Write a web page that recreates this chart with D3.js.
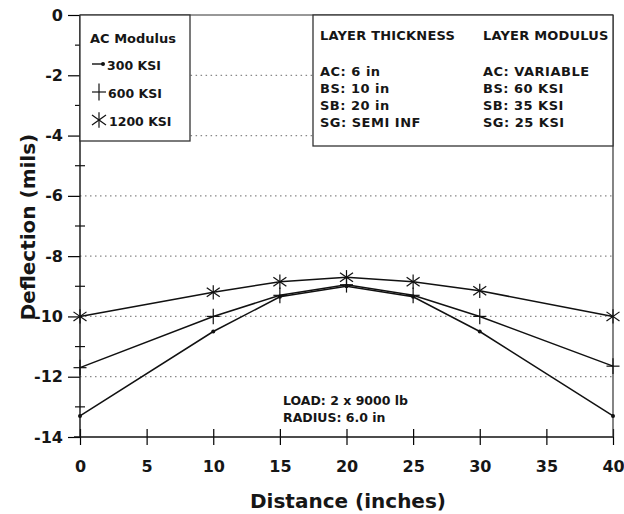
<!DOCTYPE html>
<meta charset="utf-8">
<style>
body{margin:0;background:#fff;}
text{font-family:"DejaVu Sans",Arial,sans-serif;fill:#161616;font-weight:bold;}
.tick text{font-size:16px;}
.box text{font-size:12.5px;}
.layers text{font-size:13px;letter-spacing:0.5px;}
.layers text.head{letter-spacing:0.2px;}
.title{font-size:20px;}
.grid line{stroke:#888;stroke-dasharray:1.5 3.5;stroke-width:1.2;}
</style>
<body>
<script src="https://d3js.org/d3.v7.min.js"></script>
<script>
var distance=[0,10,15,20,25,30,40];
var ac300=[-13.3,-10.5,-9.35,-9.0,-9.35,-10.5,-13.3];
var ac600=[-11.7,-10.0,-9.3,-8.95,-9.3,-10.0,-11.65];
var ac1200=[-10.0,-9.2,-8.85,-8.7,-8.85,-9.15,-10.0];
var series=[
  {name:"300 KSI",values:ac300,mark:"dot"},
  {name:"600 KSI",values:ac600,mark:"plus"},
  {name:"1200 KSI",values:ac1200,mark:"star"}
];
var xTicks=[0,5,10,15,20,25,30,35,40];
var yTicks=[0,-2,-4,-6,-8,-10,-12,-14];
var thickness=["AC: 6 in","BS: 10 in","SB: 20 in","SG: SEMI INF"];
var modulus=["AC: VARIABLE","BS: 60 KSI","SB: 35 KSI","SG: 25 KSI"];

var W=624,H=514;
var svg=d3.select("body").append("svg").attr("width",W).attr("height",H);
var x=d3.scaleLinear().domain([0,40]).range([80,613]);
var y=d3.scaleLinear().domain([0,-14]).range([15,437]);

// dotted grid, broken by the boxes at the top
var grid=svg.append("g").attr("class","grid");
[-2,-4,-6,-8,-10,-12].forEach(function(v){
  var x1=v>-5?x(8.3):x(0), x2=v>-5?x(17.5):x(40);
  grid.append("line").attr("x1",x1).attr("x2",x2).attr("y1",y(v)).attr("y2",y(v));
});

// axes
var yAxis=d3.axisLeft(y).tickValues(yTicks).tickSize(12).tickPadding(5).tickFormat(function(d){return String(d);});
var gy=svg.append("g").attr("transform","translate("+x(0)+",0)").call(yAxis);
gy.selectAll(".tick line").attr("stroke-width",1.2);
// minor y ticks
d3.range(-1,-14,-2).forEach(function(v){
  gy.append("line").attr("x1",-5).attr("x2",5).attr("y1",y(v)).attr("y2",y(v)).attr("stroke","#111").attr("stroke-width",1.2);
});
var xAxis=d3.axisBottom(x).tickValues(xTicks).tickSize(8).tickPadding(16);
var gx=svg.append("g").attr("transform","translate(0,"+y(-14)+")").call(xAxis);
gx.selectAll(".tick line").attr("y1",-8).attr("stroke-width",1.2);
svg.selectAll(".domain").remove();
svg.append("line").attr("x1",x(0)).attr("x2",x(0)).attr("y1",y(0)).attr("y2",y(-14)).attr("stroke","#111").attr("stroke-width",1.4);
svg.append("line").attr("x1",x(0)-6).attr("x2",x(40)).attr("y1",y(-14)).attr("y2",y(-14)).attr("stroke","#111").attr("stroke-width",1.4);
svg.append("line").attr("x1",x(0)).attr("x2",x(40)).attr("y1",y(0)).attr("y2",y(0)).attr("stroke","#333").attr("stroke-width",1.2);
svg.append("line").attr("x1",x(40)).attr("x2",x(40)).attr("y1",y(0)).attr("y2",y(-14)).attr("stroke","#333").attr("stroke-width",1.2);

function marker(g,type,cx,cy,s){
  var m=g.append("g").attr("transform","translate("+cx+","+cy+")").attr("stroke","#111").attr("stroke-width",1.2).attr("fill","none");
  if(type=="dot"){m.append("circle").attr("r",2).attr("fill","#111").attr("stroke","none");}
  if(type=="plus"){
    m.append("line").attr("x1",-s*0.5).attr("x2",s*0.5);
    m.append("line").attr("y1",-s*0.6).attr("y2",s*0.6);
  }
  if(type=="star"){
    m.append("line").attr("y1",-s*0.55).attr("y2",s*0.55);
    m.append("line").attr("x1",-s*0.5).attr("x2",s*0.5).attr("y1",-s*0.35).attr("y2",s*0.35);
    m.append("line").attr("x1",-s*0.5).attr("x2",s*0.5).attr("y1",s*0.35).attr("y2",-s*0.35);
  }
}

var line=d3.line().x(function(d,i){return x(distance[i]);}).y(function(d){return y(d);});
series.forEach(function(s){
  svg.append("path").attr("d",line(s.values)).attr("fill","none").attr("stroke","#111").attr("stroke-width",1.5);
  var g=svg.append("g");
  s.values.forEach(function(v,i){marker(g,s.mark,x(distance[i]),y(v),13);});
});

// legend box
var lb=svg.append("g").attr("class","box");
lb.append("rect").attr("x",x(0)).attr("y",y(0)).attr("width",110).attr("height",126).attr("fill","#fff").attr("stroke","#333").attr("stroke-width",1.3);
lb.append("text").attr("x",90).attr("y",43).style("font-size","13px").text("AC Modulus");
series.forEach(function(s,i){
  var cy=64+i*28;
  if(s.mark=="dot"){
    lb.append("line").attr("x1",92).attr("x2",104).attr("y1",cy).attr("y2",cy).attr("stroke","#111").attr("stroke-width",1.4);
    marker(lb,"dot",103,cy,12);
  } else marker(lb,s.mark,99,cy,14);
  lb.append("text").attr("x",i==0?107:i==1?108:109).attr("y",cy+6).text(s.name);
});

// layer box
var rb=svg.append("g").attr("class","layers");
rb.append("rect").attr("x",313).attr("y",y(0)).attr("width",x(40)-313).attr("height",131).attr("fill","#fff").attr("stroke","#333").attr("stroke-width",1.3);
rb.append("text").attr("class","head").attr("x",320).attr("y",40).text("LAYER THICKNESS");
rb.append("text").attr("class","head").attr("x",483).attr("y",40).text("LAYER MODULUS");
thickness.forEach(function(t,i){rb.append("text").attr("x",320).attr("y",76+i*17).text(t);});
modulus.forEach(function(t,i){rb.append("text").attr("x",483).attr("y",76+i*17).text(t);});

// load note
var nb=svg.append("g").attr("class","box");
nb.append("text").attr("x",283).attr("y",405).text("LOAD: 2 x 9000 lb");
nb.append("text").attr("x",283).attr("y",422).text("RADIUS: 6.0 in");

// titles
svg.append("text").attr("class","title").attr("x",348).attr("y",508).attr("text-anchor","middle").text("Distance (inches)");
svg.append("text").attr("class","title").attr("transform","translate(35,227) rotate(-90)").attr("text-anchor","middle").text("Deflection (mils)");
</script>
</body>
